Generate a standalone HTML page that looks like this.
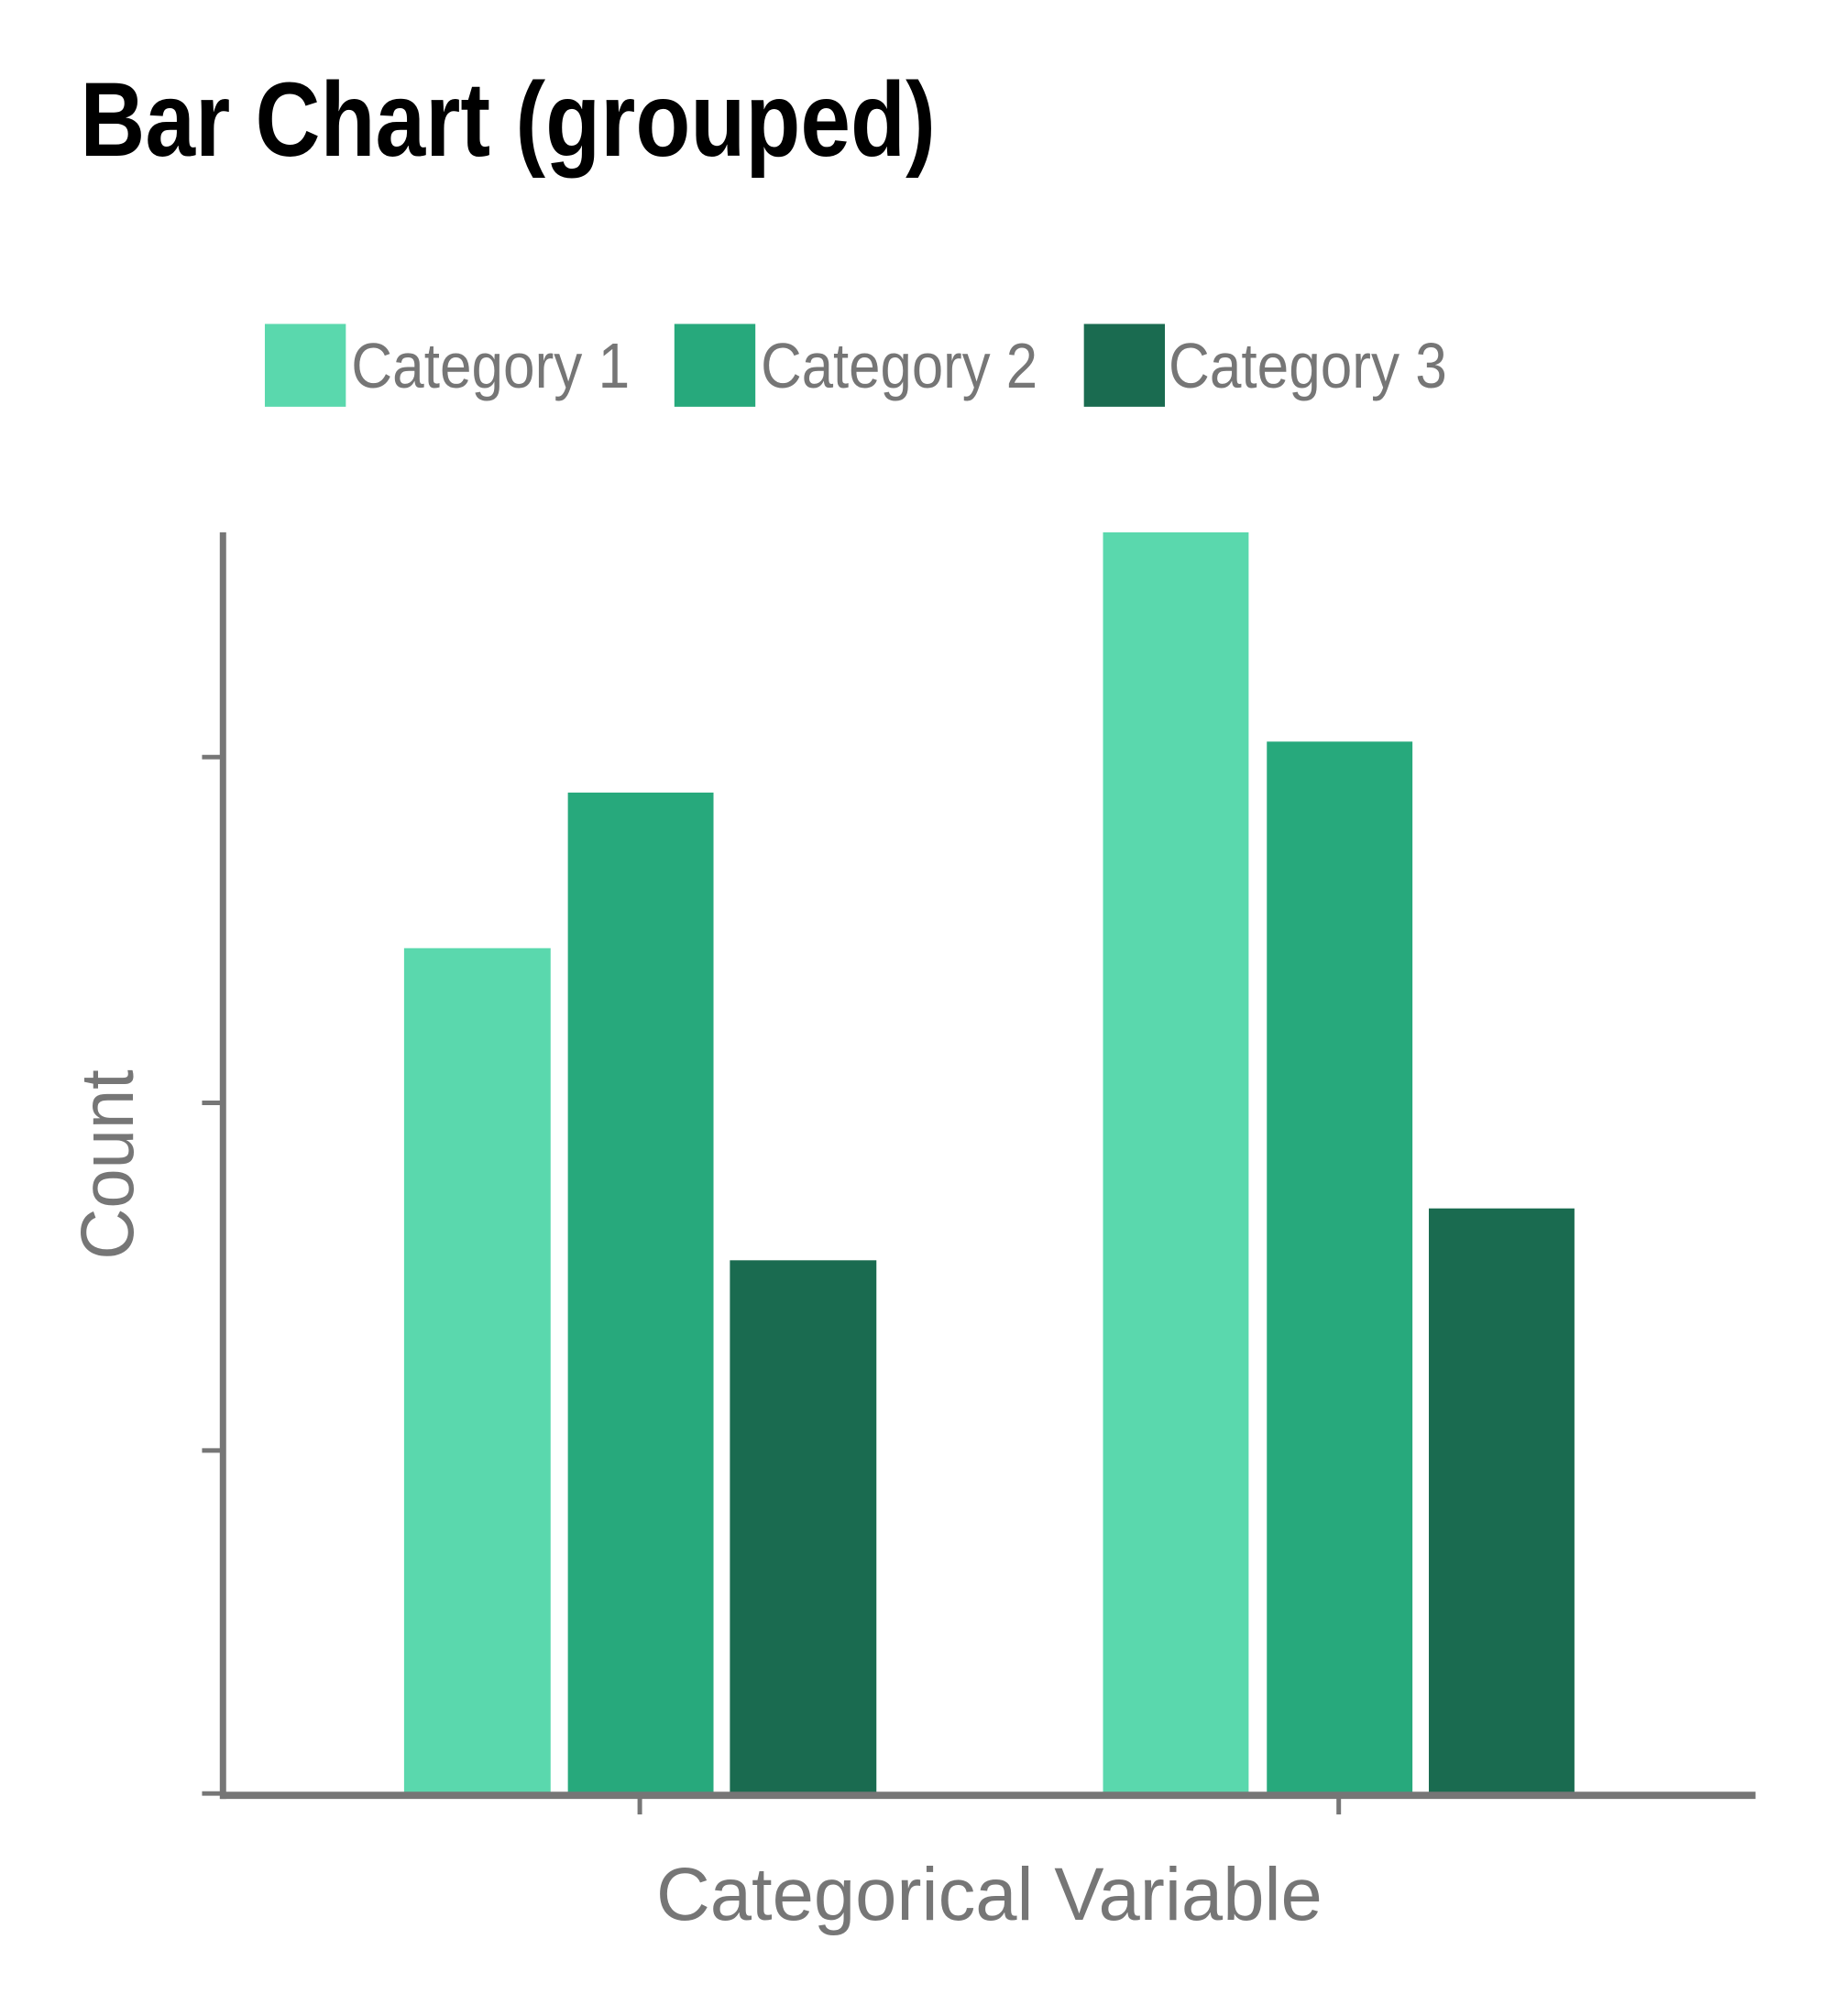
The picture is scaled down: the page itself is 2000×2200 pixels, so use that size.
<!DOCTYPE html>
<html><head><meta charset="utf-8"><style>
html,body{margin:0;padding:0;background:#fff;}
svg{display:block;}
text{font-family:"Liberation Sans",sans-serif;}
</style></head><body>
<svg width="2000" height="2200" viewBox="0 0 2000 2200" xmlns="http://www.w3.org/2000/svg">
<rect width="2000" height="2200" fill="#fff"/>
<g transform="scale(0.993)">
<text x="88" y="171" font-size="116" font-weight="bold" fill="#000" textLength="940" lengthAdjust="spacingAndGlyphs">Bar Chart (grouped)</text>
<rect x="291" y="356" width="89" height="91" fill="#5ad8ad"/>
<rect x="741" y="356" width="89" height="91" fill="#27a97c"/>
<rect x="1191" y="356" width="89" height="91" fill="#1a6b50"/>
<g fill="#767676" font-size="70">
<text x="386" y="426" textLength="306" lengthAdjust="spacingAndGlyphs">Category 1</text>
<text x="836" y="426" textLength="304" lengthAdjust="spacingAndGlyphs">Category 2</text>
<text x="1284" y="426" textLength="306" lengthAdjust="spacingAndGlyphs">Category 3</text>
</g>
<g fill="#5ad8ad"><rect x="444" y="1042" width="161" height="931"/><rect x="1212" y="585" width="160" height="1388"/></g>
<g fill="#27a97c"><rect x="624" y="871" width="160" height="1102"/><rect x="1392" y="815" width="160" height="1158"/></g>
<g fill="#1a6b50"><rect x="802" y="1385" width="161" height="588"/><rect x="1570" y="1328" width="160" height="645"/></g>
<g stroke="#767676">
<line x1="245" y1="585" x2="245" y2="1977" stroke-width="7"/>
<line x1="242" y1="1973" x2="1929" y2="1973" stroke-width="8"/>
<line x1="222" y1="832" x2="245" y2="832" stroke-width="5"/>
<line x1="222" y1="1212" x2="245" y2="1212" stroke-width="5"/>
<line x1="222" y1="1594" x2="245" y2="1594" stroke-width="5"/>
<line x1="222" y1="1971" x2="245" y2="1971" stroke-width="5"/>
<line x1="703" y1="1973" x2="703" y2="1994" stroke-width="5"/>
<line x1="1471" y1="1973" x2="1471" y2="1994" stroke-width="5"/>
</g>
<text x="721" y="2110" font-size="82" fill="#767676" textLength="732" lengthAdjust="spacingAndGlyphs">Categorical Variable</text>
<text transform="translate(146,1280) rotate(-90)" x="0" y="0" text-anchor="middle" font-size="82" fill="#767676" textLength="209" lengthAdjust="spacingAndGlyphs">Count</text>
</g>
</svg>
</body></html>
